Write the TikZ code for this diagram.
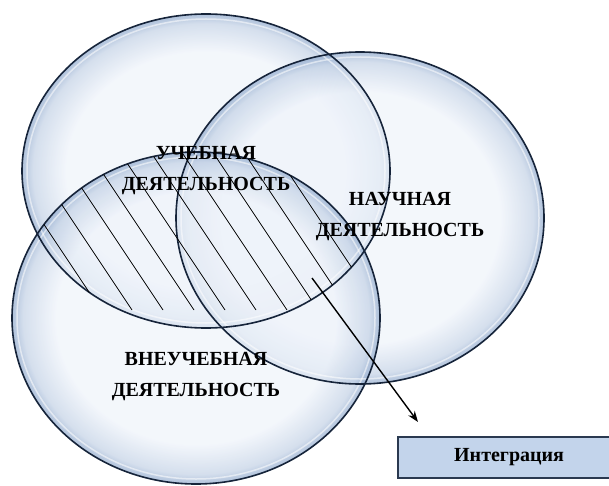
\documentclass[tikz,border=0pt]{standalone}
\usepackage{fontspec}
\setmainfont{Liberation Serif}
\usetikzlibrary{arrows.meta}
\definecolor{rim}{HTML}{16243A}
\definecolor{bubblein}{HTML}{EEF3FA}
\definecolor{bubbleout}{HTML}{8EA8CC}
\definecolor{boxfill}{HTML}{C3D4EB}
\definecolor{boxrim}{HTML}{2A3950}
\pgfdeclareradialshading{bubble}{\pgfpoint{0bp}{0bp}}{color(0bp)=(bubblein); color(19bp)=(bubblein); color(23.5bp)=(bubbleout!45!bubblein); color(25bp)=(bubbleout); color(50bp)=(bubbleout)}

\begin{document}
\begin{tikzpicture}[x=1pt,y=-1pt,
glass/.style={shade, shading=bubble, fill opacity=0.7},
rimline/.style={draw=rim, line width=1.6pt},
shine/.style={draw=white, line width=1.5pt, draw opacity=0.55},
caption/.style={font=\bfseries\fontsize{20}{31}\selectfont, align=center, inner sep=0pt},
hatch/.style={line width=0.8pt}]
\useasboundingbox (0,0) rectangle (609,486);
% bubbles
\path[glass] (206,171) ellipse [x radius=184, y radius=157];
\path[glass] (360,218) ellipse [x radius=184, y radius=166];
\path[glass] (196,318) ellipse [x radius=184, y radius=166];
\draw[shine] (206,171) ellipse [x radius=179, y radius=152];
\draw[shine] (360,218) ellipse [x radius=179, y radius=161];
\draw[shine] (196,318) ellipse [x radius=179, y radius=161];
\draw[rimline] (206,171) ellipse [x radius=184, y radius=157];
\draw[rimline] (360,218) ellipse [x radius=184, y radius=166];
\draw[rimline] (196,318) ellipse [x radius=184, y radius=166];
% lens with hatching
\begin{scope}
\clip (206,171) ellipse [x radius=184, y radius=157];
\clip (196,318) ellipse [x radius=184, y radius=166];
\foreach \k in {-10,...,7}
  \draw[hatch] ({87+31*\k},10) -- ++(200,300);
\end{scope}
\node[caption] (ucheb) at (206,171) {УЧЕБНАЯ\\ДЕЯТЕЛЬНОСТЬ};
\node[caption] (nauch) at (400,217) {НАУЧНАЯ\\ДЕЯТЕЛЬНОСТЬ};
\node[caption] (vneucheb) at (196,377) {ВНЕУЧЕБНАЯ\\ДЕЯТЕЛЬНОСТЬ};
\node[draw=boxrim, line width=2.2pt, fill=boxfill, minimum width=222pt, minimum height=41pt,
  anchor=west, font=\bfseries\fontsize{20}{22}\selectfont] (integ) at (397,457.5) {Интеграция};
\coordinate (from) at (312,278);
\coordinate (to) at (418,422);
\draw[-{Stealth[length=11pt,width=8pt]}, line width=1.4pt] (from) -- (to);
\end{tikzpicture}
\end{document}
